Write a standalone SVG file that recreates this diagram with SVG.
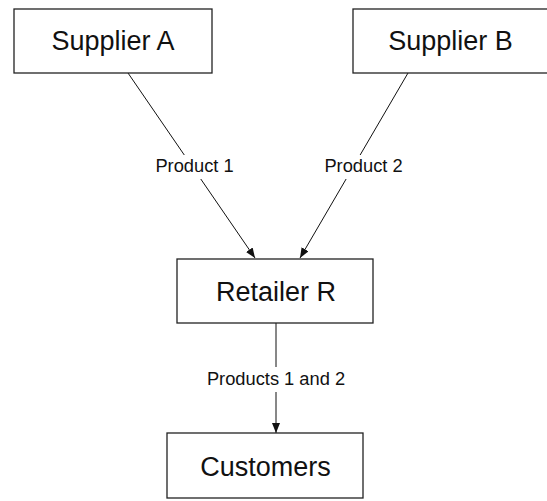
<svg xmlns="http://www.w3.org/2000/svg" width="547" height="501" viewBox="0 0 547 501">
<style>
.box{fill:#fff;stroke:#222;stroke-width:1.3}
.nt{font-family:"Liberation Sans",Arial,sans-serif;font-size:27px;fill:#111;text-anchor:middle}
.lt{font-family:"Liberation Sans",Arial,sans-serif;font-size:18.3px;fill:#111;text-anchor:middle}
.edge{stroke:#111;stroke-width:1;fill:none}
</style>
<defs>
<marker id="arr" viewBox="0 0 10 8" refX="10" refY="4" markerWidth="10" markerHeight="8" markerUnits="userSpaceOnUse" orient="auto">
<path d="M0,0 L10,4 L0,8 Z" fill="#111"/>
</marker>
</defs>
<rect width="547" height="501" fill="#fff"/>
<g id="connectors">
<line class="edge" x1="128" y1="73" x2="255" y2="258" marker-end="url(#arr)"/>
<line class="edge" x1="408" y1="73" x2="300" y2="258" marker-end="url(#arr)"/>
<line class="edge" x1="276" y1="323" x2="276" y2="433" marker-end="url(#arr)"/>
<rect x="150" y="155" width="89" height="24" fill="#fff"/>
<text class="lt" x="194.5" y="172">Product 1</text>
<rect x="319" y="155" width="89" height="24" fill="#fff"/>
<text class="lt" x="363.5" y="172">Product 2</text>
<rect x="202" y="367" width="148" height="25" fill="#fff"/>
<text class="lt" x="276" y="385">Products 1 and 2</text>
</g>
<g id="supplierA">
<rect class="box" x="14" y="9" width="198" height="64"/>
<text class="nt" x="113" y="50">Supplier A</text>
</g>
<g id="supplierB">
<rect class="box" x="353" y="9" width="196" height="64"/>
<text class="nt" x="450.5" y="50">Supplier B</text>
</g>
<g id="retailer">
<rect class="box" x="177" y="259" width="196" height="64"/>
<text class="nt" x="276" y="301">Retailer R</text>
</g>
<g id="customers">
<rect class="box" x="167" y="433" width="196" height="65"/>
<text class="nt" x="265.5" y="476">Customers</text>
</g>
</svg>
